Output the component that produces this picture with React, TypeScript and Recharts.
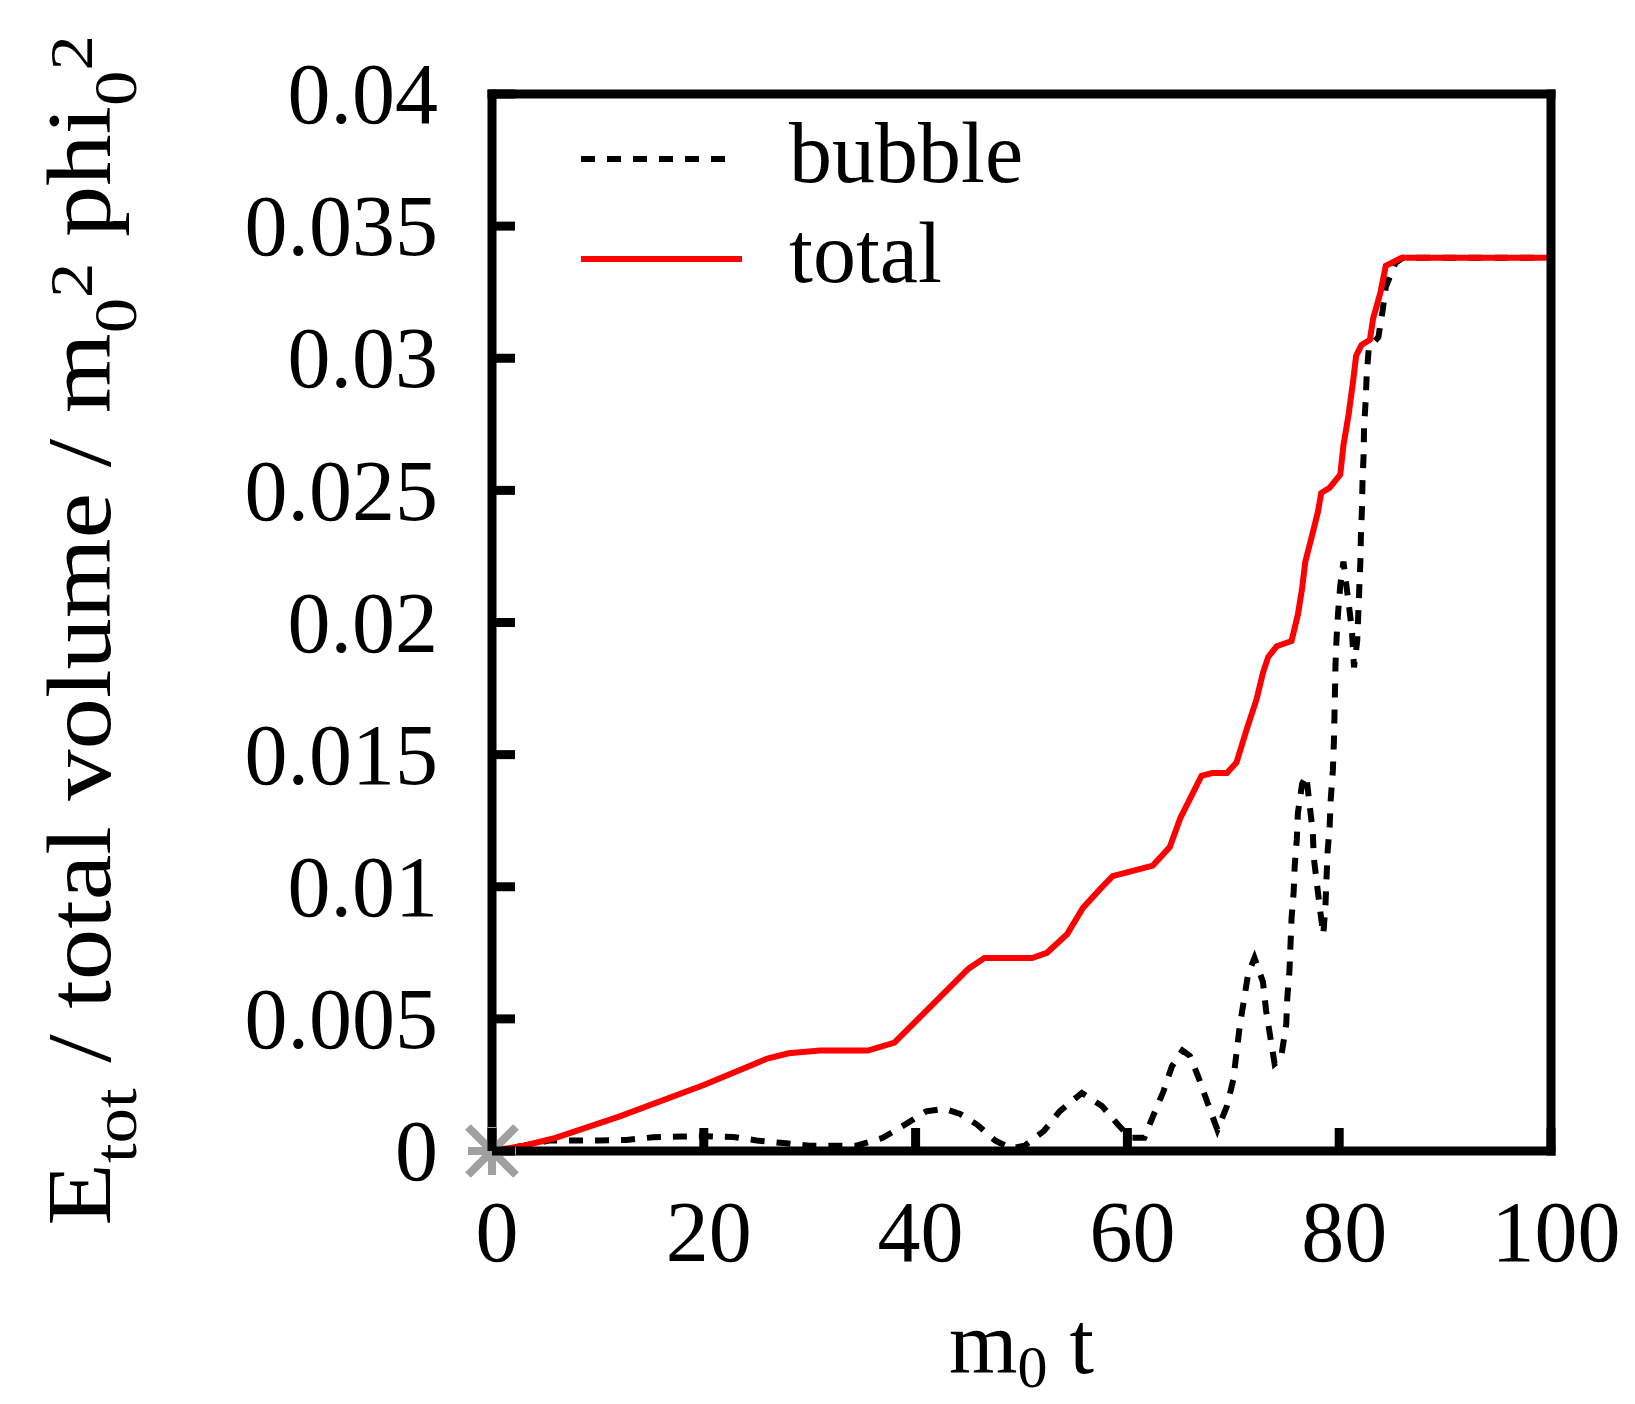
import React from "react";
import { ComposedChart, Line, Scatter, XAxis, YAxis, Legend } from "recharts";

const FONT = '"Liberation Serif", "Times New Roman", serif';
const FS = 86;
const FRAME = 9;
const TICK = 23;

// axis ticks
const timeTicks = [0, 20, 40, 60, 80, 100];
const energyTicks = [0, 0.005, 0.01, 0.015, 0.02, 0.025, 0.03, 0.035, 0.04];

// bubble energy (dashed black)
const bubbleT = [
  0, 3, 5.5, 7.8, 10.2, 12.7, 15.2, 17.8, 20.3, 22.8, 25, 27.5, 30, 34.4, 36.9,
  39, 41, 42.7, 44.2, 45.8, 47.5, 49, 50.3, 52.1, 53.6, 55.7, 57.6, 59.1, 60.3,
  61.6, 62.4, 63.4, 64.2, 65.2, 65.9, 66.7, 67.5, 68.5, 69.4, 70, 70.3, 70.6, 71,
  71.4, 72, 72.8, 73.1, 73.5, 73.9, 74.5, 75, 75.1, 75.3, 75.4, 75.5, 75.7, 75.8,
  76, 76.1, 76.5, 76.9, 77.2, 77.5, 77.6, 77.9, 78.2, 78.5, 78.7, 78.8, 78.9,
  79.1, 79.2, 79.4, 79.5, 79.55, 79.6, 79.65, 79.75, 79.9, 80.1, 80.4, 80.9,
  81.2, 81.4, 81.7, 81.8, 81.9, 82, 82.05, 82.15, 82.2, 82.3, 82.35, 82.5, 82.6,
  82.8, 83.7, 84.1, 84.4, 85.3, 86, 100,
];
const bubbleE = [
  0, 0.0002, 0.0004, 0.0004, 0.0004, 0.00042, 0.00052, 0.00055, 0.00056,
  0.00053, 0.0004, 0.0003, 0.0002, 0.0002, 0.0005, 0.001, 0.0015, 0.0016,
  0.0014, 0.001, 0.0004, 0.0001, 0.0002, 0.00075, 0.0015, 0.0022, 0.0017, 0.001,
  0.0005, 0.0005, 0.0013, 0.00225, 0.0032, 0.0038, 0.0036, 0.0028, 0.0019,
  0.0008, 0.0017, 0.0027, 0.0037, 0.0047, 0.0057, 0.0067, 0.0073, 0.0064,
  0.0053, 0.0043, 0.0033, 0.0035, 0.0048, 0.0058, 0.0068, 0.0078, 0.0088,
  0.0098, 0.0108, 0.0118, 0.0128, 0.0139, 0.0142, 0.0131, 0.0121, 0.0111,
  0.0101, 0.0091, 0.0082, 0.0093, 0.0103, 0.0113, 0.0123, 0.0133, 0.0144,
  0.0155, 0.0164, 0.0174, 0.0184, 0.0194, 0.0204, 0.0214, 0.0223, 0.0207,
  0.0197, 0.0183, 0.0193, 0.0203, 0.0213, 0.0223, 0.0233, 0.0243, 0.0253,
  0.0263, 0.0274, 0.0284, 0.0294, 0.0304, 0.0308, 0.0318, 0.0327, 0.0336,
  0.0338, 0.0338,
];

// total energy (solid red)
const totalT = [
  0, 3, 6, 12, 20, 26, 28, 31, 35.5, 38, 42, 45, 46.5, 48, 51, 52.4, 54.3, 55.8,
  57.4, 58.6, 60.5, 62.4, 64, 65, 66, 67, 68, 69.4, 70.3, 71.3, 72.2, 72.8, 73.3,
  74.1, 75.5, 76.1, 76.5, 76.8, 77.5, 78, 78.3, 79.1, 80.1, 80.4, 80.9, 81.3,
  81.6, 82.1, 82.9, 83.2, 83.9, 84.4, 85.9, 100,
];
const totalE = [
  0, 0.0002, 0.0005, 0.0013, 0.0025, 0.0035, 0.0037, 0.0038, 0.0038, 0.0041,
  0.0057, 0.0069, 0.0073, 0.0073, 0.0073, 0.0075, 0.0082, 0.0092, 0.0099,
  0.0104, 0.0106, 0.0108, 0.0115, 0.0126, 0.0134, 0.0142, 0.0143, 0.0143,
  0.0147, 0.016, 0.0171, 0.0181, 0.0187, 0.0191, 0.0193, 0.0203, 0.0213, 0.0223,
  0.0234, 0.0242, 0.0249, 0.0251, 0.0256, 0.0267, 0.0279, 0.0291, 0.0301,
  0.0305, 0.0307, 0.0315, 0.0325, 0.0335, 0.0338, 0.0338,
];

// grey marker at the origin
const originT = [0];
const originE = [0];

const bubbleData = bubbleT.map((t, i) => ({ t, e: bubbleE[i] }));
const totalData = totalT.map((t, i) => ({ t, e: totalE[i] }));
const originData = originT.map((t, i) => ({ t, e: originE[i] }));

const frameLine = { stroke: "#000", strokeWidth: FRAME, strokeLinecap: "square" as const };

function LeftTick({ x, y, payload }: any) {
  const ax = x + 54;
  return (
    <g>
      <line x1={ax} x2={ax + TICK} y1={y} y2={y} stroke="#000" strokeWidth={FRAME} />
      <text x={x} y={y} dy="0.34em" textAnchor="end" fontFamily={FONT} fontSize={FS} fill="#000">
        {payload.value}
      </text>
    </g>
  );
}

function RightTick({ x, y }: any) {
  return <line x1={x} x2={x - TICK} y1={y} y2={y} stroke="#000" strokeWidth={FRAME} />;
}

function BottomTick({ x, y, payload }: any) {
  const ay = y - 110;
  return (
    <g>
      <line x1={x} x2={x} y1={ay} y2={ay - TICK} stroke="#000" strokeWidth={FRAME} />
      <text x={x + 5} y={y} textAnchor="middle" fontFamily={FONT} fontSize={FS} fill="#000">
        {payload.value}
      </text>
    </g>
  );
}

function TopTick({ x, y }: any) {
  return <line x1={x} x2={x} y1={y} y2={y + TICK} stroke="#000" strokeWidth={FRAME} />;
}

function XTitle({ viewBox }: any) {
  const cx = viewBox.x + viewBox.width / 2;
  return (
    <text x={cx} y={viewBox.y + 222} textAnchor="middle" fontFamily={FONT} fontSize={88} fill="#000"
      style={{ whiteSpace: "pre" }}>
      m<tspan fontSize={60} dy={14}>0</tspan>
      <tspan dy={-14}>{" t"}</tspan>
    </text>
  );
}

function YTitle({ viewBox }: any) {
  const cx = viewBox.x + 110;
  const cy = viewBox.y + viewBox.height / 2 + 8;
  return (
    <text transform={`translate(${cx},${cy}) rotate(-90) scale(1.14,1)`} textAnchor="middle"
      fontFamily={FONT} fontSize={90} fill="#000" style={{ whiteSpace: "pre" }}>
      E<tspan fontSize={62} dy={26}>tot</tspan>
      <tspan dy={-26}>{" / total volume / m"}</tspan>
      <tspan fontSize={62} dy={26}>0</tspan>
      <tspan fontSize={62} dy={-44}>2</tspan>
      <tspan dy={18}>{" phi"}</tspan>
      <tspan fontSize={62} dy={26}>0</tspan>
      <tspan fontSize={62} dy={-44}>2</tspan>
    </text>
  );
}

function Asterisk({ cx, cy }: any) {
  const r = 24;
  return (
    <g stroke="#a0a0a0" strokeWidth={8}>
      <line x1={cx - r} x2={cx + r} y1={cy} y2={cy} />
      <line x1={cx} x2={cx} y1={cy - r} y2={cy + r} />
      <line x1={cx - r} x2={cx + r} y1={cy - r} y2={cy + r} />
      <line x1={cx - r} x2={cx + r} y1={cy + r} y2={cy - r} />
    </g>
  );
}

function LegendBox({ payload }: any) {
  const rows = (payload || []).filter((p: any) => p.type !== "none");
  return (
    <svg width={600} height={260} style={{ display: "block", overflow: "visible" }}>
      {rows.map((p: any, i: number) => {
        const y = 59 + i * 100;
        const dash = p.payload?.strokeDasharray;
        return (
          <g key={p.value}>
            <line x1={21} x2={dash ? 170 : 182} y1={y} y2={y} stroke={p.color} strokeWidth={6}
              strokeDasharray={dash} />
            <text x={229} y={y + 23} fontFamily={FONT} fontSize={FS} fill="#000">
              {p.value}
            </text>
          </g>
        );
      })}
    </svg>
  );
}

export default function App() {
  return (
    <div style={{ position: "absolute", left: 0, top: 0, background: "#fff" }}>
      <ComposedChart width={1635} height={1404} margin={{ top: 74, right: 64, bottom: 153, left: 0 }}>
        <XAxis xAxisId="b" dataKey="t" type="number" domain={[0, 100]} ticks={timeTicks} interval={0}
          height={100} tickLine={false} tickSize={0} tickMargin={110} axisLine={frameLine}
          tick={(p: any) => <BottomTick {...p} />} label={{ content: (p: any) => <XTitle {...p} /> }} />
        <XAxis xAxisId="top" orientation="top" type="number" domain={[0, 100]} ticks={timeTicks}
          interval={0} height={20} tickLine={false} tickSize={0} tickMargin={0} axisLine={frameLine}
          tick={(p: any) => <TopTick {...p} />} />
        <YAxis yAxisId="l" dataKey="e" type="number" domain={[0, 0.04]} ticks={energyTicks} interval={0}
          width={492} tickLine={false} tickSize={0} tickMargin={54} axisLine={frameLine}
          tick={(p: any) => <LeftTick {...p} />}
          label={{ content: (p: any) => <YTitle {...p} /> }} />
        <YAxis yAxisId="r" orientation="right" type="number" domain={[0, 0.04]} ticks={energyTicks}
          interval={0} width={20} tickLine={false} tickSize={0} tickMargin={0} axisLine={frameLine}
          tick={(p: any) => <RightTick {...p} />} />
        <Legend layout="vertical" align="center" verticalAlign="middle"
          wrapperStyle={{ left: 560, top: 100, width: 600, height: 260 }}
          content={(p: any) => <LegendBox {...p} />} />
        <Scatter xAxisId="b" yAxisId="l" data={originData} dataKey="e" name="origin" legendType="none"
          shape={(p: any) => <Asterisk {...p} />} isAnimationActive={false} />
        <Line xAxisId="b" yAxisId="l" data={bubbleData} dataKey="e" name="bubble" type="linear"
          stroke="#000" strokeWidth={6} strokeDasharray="14 12" dot={false} activeDot={false}
          isAnimationActive={false} />
        <Line xAxisId="b" yAxisId="l" data={totalData} dataKey="e" name="total" type="linear"
          stroke="#ff0000" strokeWidth={6} dot={false} activeDot={false} isAnimationActive={false} />
      </ComposedChart>
    </div>
  );
}
